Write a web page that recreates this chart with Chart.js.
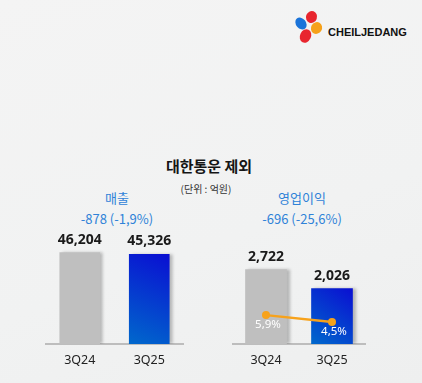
<!DOCTYPE html>
<html>
<head>
<meta charset="utf-8">
<script src="https://cdn.jsdelivr.net/npm/chart.js@4.4.0/dist/chart.umd.min.js"></script>
<style>
  html, body { margin: 0; padding: 0; }
  body { width: 422px; height: 383px; position: relative; overflow: hidden;
    background: linear-gradient(160deg, #f4f4f4 0%, #f1f2f2 60%, #eeefef 100%);
    font-family: "Noto Sans", "Noto Sans CJK KR", sans-serif; }
  .t { position: absolute; transform: translate(-50%, -50%); white-space: nowrap; line-height: 1; }
  .title { font-family: "Noto Sans CJK KR", sans-serif; font-weight: 700; font-size: 15px; color: #151515; }
  .unit { font-family: "Noto Sans CJK KR", sans-serif; font-size: 10px; color: #333; }
  .blue { font-family: "Noto Sans CJK KR", "Noto Sans", sans-serif; font-size: 13px; color: #2f82d8; }
  .box { position: absolute; }
  .petal { position: absolute; border-radius: 50%; }
  .logo { position: absolute; left: 328px; top: 25px; font-family: "Liberation Sans", sans-serif;
    font-weight: 700; font-size: 11px; color: #111; letter-spacing: 0px; line-height: 14px; }
</style>
</head>
<body>
<div class="petal" style="left:306px;top:11px;width:11px;height:12px;background:#e8262f;transform:rotate(20deg)"></div>
<div class="petal" style="left:296px;top:17px;width:10px;height:13px;background:#1a73d9;transform:rotate(-40deg)"></div>
<div class="petal" style="left:311px;top:22px;width:11px;height:12px;background:#f6a11a;transform:rotate(30deg)"></div>
<div class="petal" style="left:300px;top:29px;width:11px;height:14px;background:#e8262f;transform:rotate(25deg)"></div>
<div class="logo">CHEILJEDANG</div>

<div class="t title" style="left:209px;top:165px">대한통운 제외</div>
<div class="t unit" style="left:206px;top:189px">(단위 : 억원)</div>
<div class="t blue" style="left:117px;top:197px">매출</div>
<div class="t blue" style="left:117px;top:218px">-878 (-1,9%)</div>
<div class="t blue" style="left:302px;top:197px">영업이익</div>
<div class="t blue" style="left:302px;top:218px">-696 (-25,6%)</div>

<div class="box" style="left:45px;top:200px;width:139px;height:180px"><canvas id="c1"></canvas></div>
<div class="box" style="left:229px;top:200px;width:140px;height:180px"><canvas id="c2"></canvas></div>

<script>
const categories = ['3Q24', '3Q25'];
const salesValues = [46204, 45326];
const opProfitValues = [2722, 2026];
const opMarginValues = [5.9, 4.5];

const fmtNum = v => v.toLocaleString('en-US');
const fmtPct = v => v.toFixed(1).replace('.', ',') + '%';

function barFill(ctx) {
  if (ctx.dataIndex === 0) return '#bfbfbf';
  const chart = ctx.chart;
  const area = chart.chartArea;
  const xs = chart.scales.x, ys = chart.scales.y;
  if (!area || !xs || !ys) return '#0a3ccf';
  const cx = xs.getPixelForValue(ctx.dataIndex);
  const top = ys.getPixelForValue(ctx.raw);
  if (![cx, top, area.bottom].every(Number.isFinite)) return '#0a3ccf';
  const g = chart.ctx.createLinearGradient(cx + 20, top, cx - 20, area.bottom);
  g.addColorStop(0, '#0a0fd2');
  g.addColorStop(1, '#0068cc');
  return g;
}

const shadowPlugin = {
  id: 'shadow',
  beforeDatasetDraw(chart, args) {
    if (args.meta.type !== 'bar') return;
    const c = chart.ctx;
    c.save();
    c.shadowColor = 'rgba(0,0,0,0.25)';
    c.shadowBlur = 3;
    c.shadowOffsetX = 3;
    c.shadowOffsetY = 0;
  },
  afterDatasetDraw(chart, args) {
    if (args.meta.type !== 'bar') return;
    chart.ctx.restore();
  }
};

const labelPlugin = {
  id: 'vlabels',
  afterDatasetsDraw(chart) {
    const c = chart.ctx;
    chart.data.datasets.forEach((ds, i) => {
      const meta = chart.getDatasetMeta(i);
      meta.data.forEach((el, j) => {
        c.save();
        c.textAlign = 'center';
        c.textBaseline = 'middle';
        if (meta.type === 'bar') {
          c.font = '700 14px "Noto Sans", sans-serif';
          c.fillStyle = '#1a1a1a';
          c.fillText(fmtNum(ds.data[j]), el.x, el.y - 13);
        } else {
          c.font = '11.5px "Noto Sans", sans-serif';
          c.fillStyle = '#ffffff';
          c.fillText(fmtPct(ds.data[j]), el.x + 2, el.y + 10);
        }
        c.restore();
      });
    });
  }
};

function xAxis() {
  return {
    grid: { display: false, drawTicks: false },
    border: { display: true, color: '#bdbdbd', width: 2 },
    ticks: { color: '#222', padding: 9, font: { size: 12.5, family: '"Noto Sans", sans-serif' } }
  };
}

const common = {
  responsive: true,
  maintainAspectRatio: false,
  animation: false,
  layout: { padding: { top: 0, bottom: 3, left: 0, right: 0 } },
  plugins: { legend: { display: false }, tooltip: { enabled: false } }
};

new Chart(document.getElementById('c1'), {
  type: 'bar',
  data: {
    labels: categories,
    datasets: [{
      label: '매출',
      data: salesValues,
      backgroundColor: barFill,
      barThickness: 40,
      order: 1
    }]
  },
  options: Object.assign({}, common, {
    scales: {
      x: xAxis(),
      y: { display: false, min: 0, max: 72800 }
    }
  }),
  plugins: [shadowPlugin, labelPlugin]
});

new Chart(document.getElementById('c2'), {
  data: {
    labels: categories,
    datasets: [{
      type: 'line',
      label: '영업이익률',
      data: opMarginValues,
      yAxisID: 'y2',
      borderColor: '#f7a21b',
      backgroundColor: '#f7a21b',
      borderWidth: 2.5,
      pointRadius: 4,
      pointBorderWidth: 0,
      order: 0
    }, {
      type: 'bar',
      label: '영업이익',
      data: opProfitValues,
      backgroundColor: barFill,
      barThickness: 41,
      order: 1
    }]
  },
  options: Object.assign({}, common, {
    scales: {
      x: xAxis(),
      y: { display: false, min: 0, max: 5120 },
      y2: { display: false, min: 0, max: 28.6 }
    }
  }),
  plugins: [shadowPlugin, labelPlugin]
});
</script>
</body>
</html>
